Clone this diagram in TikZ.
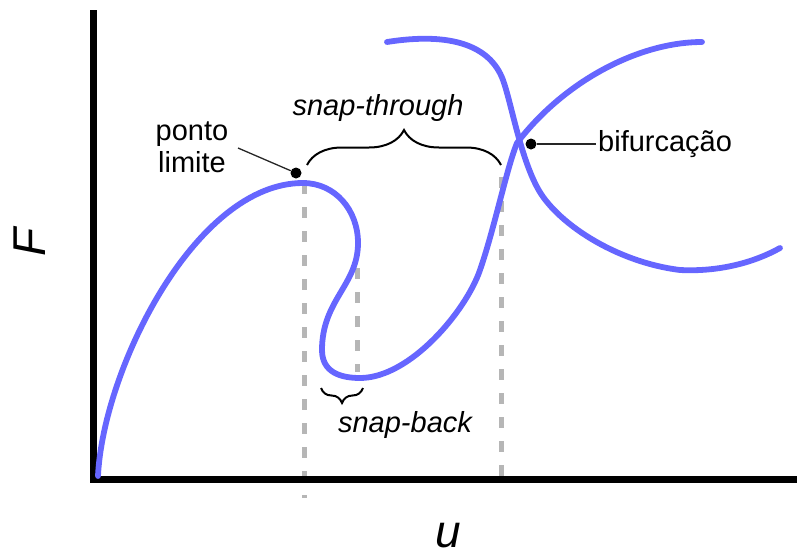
\documentclass[tikz,border=0pt]{standalone}
\usepackage{fontspec}
\setmainfont{Liberation Sans}
\usetikzlibrary{decorations.pathreplacing}
\definecolor{curveblue}{RGB}{102,102,255}
\definecolor{guidegray}{RGB}{182,182,182}
\begin{document}
\begin{tikzpicture}[x=1pt,y=-1pt,
  axisline/.style={line width=7pt,line join=miter,line cap=butt},
  guide/.style={guidegray,line width=5pt,dash pattern=on 11pt off 13pt},
  curve/.style={curveblue,line width=5.8pt,line cap=round},
  leader/.style={black!85,line width=1.3pt},
  dotmark/.style={circle,fill=black,inner sep=0pt,minimum size=11pt},
  lbl/.style={font=\fontsize{29}{32}\selectfont,inner sep=2pt},
  ilbl/.style={font=\fontsize{29}{32}\selectfont\itshape,inner sep=2pt},
  axlbl/.style={font=\fontsize{46}{50}\selectfont\itshape,inner sep=0pt},
  bracestyle/.style={decorate,line width=2pt}]
\useasboundingbox (0,0) rectangle (797,555);
% guides
\draw[guide] (304,183) -- (304,498);
\draw[guide] (357,268) -- (357,372);
\draw[guide] (501,177) -- (501,488);
% axes
\coordinate (ytop) at (93,10);
\coordinate (orig) at (93,479);
\coordinate (xend) at (797,479);
\draw[axisline] (ytop) -- (orig) -- (xend);
% main curve
\draw[curve] (98,476) .. controls (103,370) and (195,183) .. (303,183)
  .. controls (335,183) and (358,210) .. (358,243)
  .. controls (358,285) and (322,300) .. (322,350)
  .. controls (322,372) and (340,378) .. (360,378)
  .. controls (410,378) and (466,311) .. (480,270)
  .. controls (494,230) and (507,167) .. (517,143)
  .. controls (565,80) and (640,42) .. (702,42);
% second branch
\draw[curve] (387,42) .. controls (450,32) and (490,45) .. (503,80)
  .. controls (511,102) and (520,155) .. (537,187)
  .. controls (555,222) and (615,262) .. (680,270)
  .. controls (720,272) and (755,262) .. (780,248);
% points
\node[dotmark] (ptdot) at (296,173) {};
\node[dotmark] (bifdot) at (531,144) {};
% labels
\node[lbl,align=center] (pl) at (192,147) {ponto\\limite};
\coordinate (plend) at (238,148);
\draw[leader] (plend) -- (ptdot);
\node[lbl,anchor=west] (bif) at (596,144) {bifurcação};
\draw[leader] (bifdot) -- (bif.west);
\node[ilbl] (st) at (378,108) {snap-through};
\node[ilbl] (sb) at (405,425) {snap-back};
\coordinate (stl) at (307,165);
\coordinate (str) at (501,165);
\draw[bracestyle,decoration={brace,amplitude=35pt}] (stl) -- (str);
\coordinate (sbr) at (363,388);
\coordinate (sbl) at (321,388);
\draw[bracestyle,decoration={brace,amplitude=15pt}] (sbr) -- (sbl);
\node[axlbl,anchor=base] (ulbl) at (448,547) {u};
\node[axlbl,rotate=90] (flbl) at (30,242) {F};
\end{tikzpicture}
\end{document}
